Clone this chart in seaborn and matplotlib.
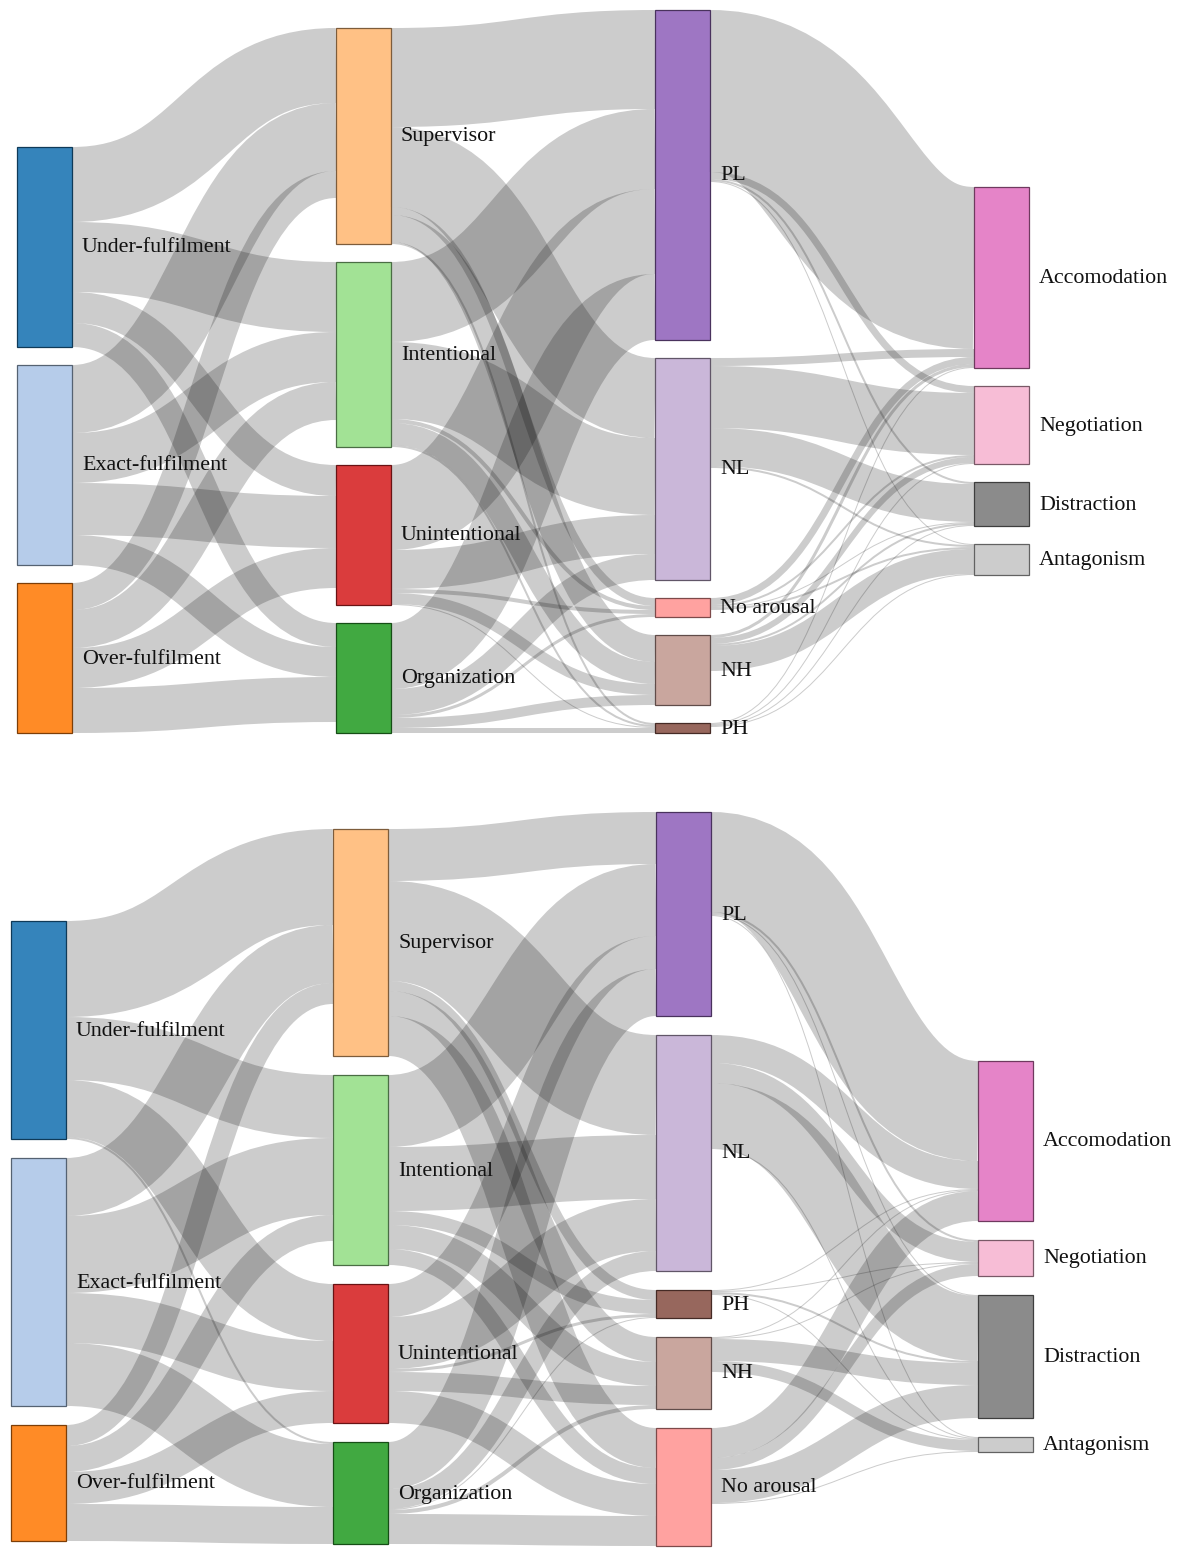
import matplotlib
matplotlib.use("Agg")
import matplotlib.pyplot as plt
from matplotlib.path import Path
from matplotlib.patches import PathPatch, Rectangle
from matplotlib.colors import to_rgb
import seaborn as sns

sns.set_theme(style="white")
plt.rcParams['font.family'] = ['Liberation Serif', 'DejaVu Serif']

# ---------------- data ----------------
fulfilment = ["Under-fulfilment", "Exact-fulfilment", "Over-fulfilment"]
attribution = ["Supervisor", "Intentional", "Unintentional", "Organization"]
arousal_top = ["PL", "NL", "No arousal", "NH", "PH"]
arousal_bottom = ["PL", "NL", "PH", "NH", "No arousal"]
response = ["Accomodation", "Negotiation", "Distraction", "Antagonism"]

# top diagram: rows = source nodes, columns = target nodes
top_ful_att = [[75, 70, 31, 24],
               [68, 50, 52, 30],
               [27, 38, 40, 45]]
top_att_aro = [[99, 80, 8, 27, 2],
               [80, 77, 4, 22, 2],
               [85, 39, 4, 11, 1],
               [66, 26, 3, 10, 5]]
top_aro_res = [[162, 7, 2, 1],
               [8, 62, 38, 2],
               [7, 2, 1, 2],
               [3, 6, 2, 25],
               [1, 1, 1, 1]]

# bottom diagram
bot_ful_att = [[96, 63, 57, 2],
               [58, 77, 50, 63],
               [21, 26, 32, 37]]
bot_att_aro = [[52, 100, 10, 25, 40],
               [72, 64, 14, 24, 16],
               [33, 52, 3, 19, 32],
               [47, 20, 1, 4, 30]]
bot_aro_res = [[100, 2, 1, 1],
               [28, 20, 65, 1],
               [1, 1, 2, 1],
               [1, 1, 22, 11],
               [30, 12, 33, 1]]

# ---------------- colours ----------------
pal = sns.color_palette("tab20")
color_idx = {"Under-fulfilment": 0, "Exact-fulfilment": 1, "Over-fulfilment": 2,
             "Supervisor": 3, "Intentional": 5, "Unintentional": 6, "Organization": 4,
             "PL": 8, "NL": 9, "No arousal": 7, "NH": 11, "PH": 10,
             "Accomodation": 12, "Negotiation": 13, "Distraction": 14, "Antagonism": 15}

# ---------------- layout ----------------
W, H = 1181, 1551
NODE_W = 55
KY = 1.0
panels = [
    dict(columns=[fulfilment, attribution, arousal_top, response],
         flows=[top_ful_att, top_att_aro, top_aro_res],
         col_x=[17, 336, 655, 974], col_top=[147, 28, 10, 187], gap=18),
    dict(columns=[fulfilment, attribution, arousal_bottom, response],
         flows=[bot_ful_att, bot_att_aro, bot_aro_res],
         col_x=[11, 333, 656, 978], col_top=[921, 829, 812, 1061], gap=19),
]

fig = plt.figure(figsize=(W / 100, H / 100), dpi=100)
ax = fig.add_axes([0, 0, 1, 1])
ax.set_xlim(0, W)
ax.set_ylim(H, 0)
ax.axis("off")
px2pt = 72 / 100


def draw_panel(p):
    cols, flows = p["columns"], p["flows"]
    # node values = max(inflow, outflow)
    nodes = []
    for c, names in enumerate(cols):
        col_nodes = []
        for i, n in enumerate(names):
            inflow = sum(r[i] for r in flows[c - 1]) if c > 0 else 0
            outflow = sum(flows[c][i]) if c < len(flows) else 0
            col_nodes.append(dict(name=n, value=max(inflow, outflow)))
        y = p["col_top"][c]
        for nd in col_nodes:
            nd["x"] = p["col_x"][c]
            nd["y"] = y
            nd["h"] = nd["value"] * KY
            nd["sy"] = 0.0
            nd["ty"] = 0.0
            y += nd["h"] + p["gap"]
        nodes.append(col_nodes)

    # links (node order = vertical order, so links stack naturally)
    for c, mat in enumerate(flows):
        for i, row in enumerate(mat):
            s = nodes[c][i]
            for j, v in enumerate(row):
                t = nodes[c + 1][j]
                dy = v * KY
                y0 = s["y"] + s["sy"] + dy / 2
                y1 = t["y"] + t["ty"] + dy / 2
                s["sy"] += dy
                t["ty"] += dy
                x0 = s["x"] + NODE_W
                x1 = t["x"]
                xi = (x0 + x1) / 2
                path = Path([(x0, y0), (xi, y0), (xi, y1), (x1, y1)],
                            [Path.MOVETO, Path.CURVE4, Path.CURVE4, Path.CURVE4])
                ax.add_patch(PathPatch(path, facecolor="none",
                                       edgecolor=(0, 0, 0, 0.2),
                                       lw=max(1.0, dy) * px2pt,
                                       capstyle="butt", zorder=1))
    # nodes + labels
    for col_nodes in nodes:
        for nd in col_nodes:
            base = to_rgb(pal[color_idx[nd["name"]]])
            face = (*base, 0.9)
            edge = tuple(ch * 0.49 for ch in base)
            ax.add_patch(Rectangle((nd["x"], nd["y"]), NODE_W, nd["h"],
                                   facecolor=face, edgecolor=edge, lw=0.9, zorder=2))
            ax.text(nd["x"] + NODE_W + 10, nd["y"] + nd["h"] / 2 + 1, nd["name"],
                    fontsize=15.8, color="#111111", va="center", ha="left", zorder=3)


for p in panels:
    draw_panel(p)

fig.savefig("out.png", dpi=100)
